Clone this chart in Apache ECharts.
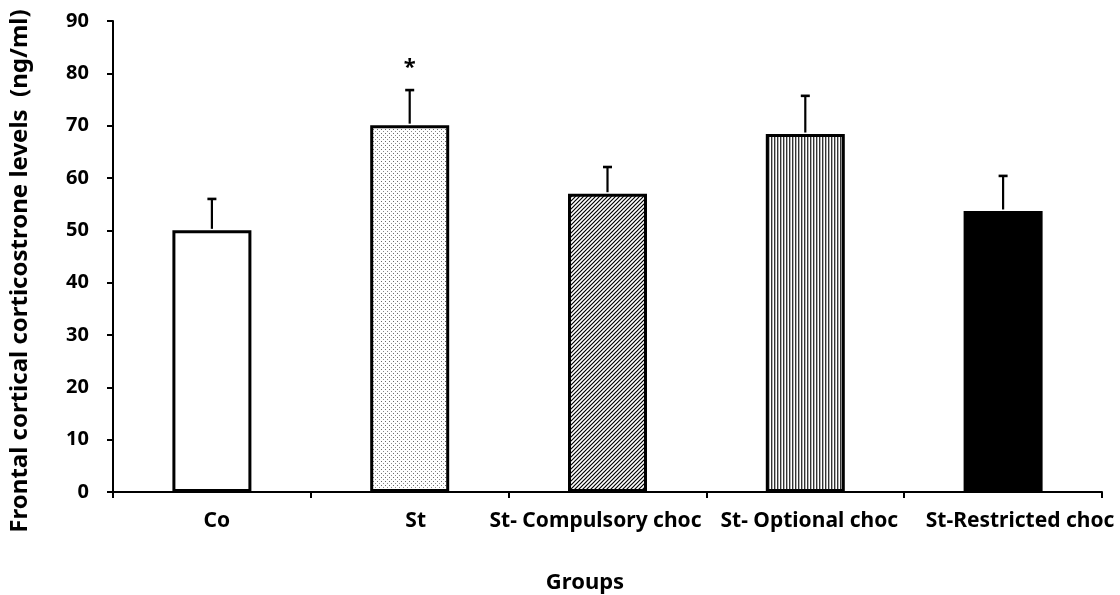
<!DOCTYPE html>
<html>
<head>
<meta charset="utf-8">
<script src="https://cdn.jsdelivr.net/npm/echarts@6/dist/echarts.min.js"></script>
<style>
html,body{margin:0;padding:0;background:#fff;}
#chart{width:1120px;height:595px;}
</style>
</head>
<body>
<div id="chart"></div>
<script>
// ---- data ----
const categories = ['Co', 'St', 'St- Compulsory choc', 'St- Optional choc', 'St-Restricted choc'];
const means = [50.0, 70.1, 57.0, 68.4, 53.7];
const errors = [6.0, 6.7, 5.1, 7.3, 6.7];
const significance = ['', '*', '', '', ''];
const yMin = 0, yMax = 90, yStep = 10;
const yTitle = 'Frontal cortical corticostrone levels  (ng/ml)';
const xTitle = 'Groups';

// ---- patterns ----
function makeTile(w, h, draw) {
  const c = document.createElement('canvas');
  c.width = w; c.height = h;
  const ctx = c.getContext('2d');
  ctx.fillStyle = '#fff';
  ctx.fillRect(0, 0, w, h);
  draw(ctx, w, h);
  return { image: c, repeat: 'repeat' };
}
const dotFill = makeTile(4, 4, (ctx) => {
  ctx.fillStyle = '#6a6a6a';
  ctx.fillRect(1, 1, 1, 1);
  ctx.fillStyle = '#8a8a8a';
  ctx.fillRect(3, 3, 1, 1);
});
const diagFill = makeTile(4, 4, (ctx, w, h) => {
  ctx.strokeStyle = '#000';
  ctx.lineWidth = 1.2;
  ctx.beginPath();
  ctx.moveTo(-1, h + 1); ctx.lineTo(w + 1, -1);
  ctx.moveTo(-1, 1); ctx.lineTo(1, -1);
  ctx.moveTo(w - 1, h + 1); ctx.lineTo(w + 1, h - 1);
  ctx.stroke();
});
const vertFill = makeTile(3, 4, (ctx) => {
  ctx.fillStyle = '#333';
  ctx.fillRect(0, 0, 1, 4);
  ctx.fillStyle = '#b0b0b0';
  ctx.fillRect(1, 0, 1, 4);
});
const fills = ['#ffffff', dotFill, diagFill, vertFill, '#000000'];
const labelShift = [10, 12, -24, 8, 34];

const FONT = 'Noto Sans';
const chart = echarts.init(document.getElementById('chart'), null, { renderer: 'canvas' });

const option = {
  backgroundColor: '#fff',
  animation: false,
  grid: { left: 113, right: 18, top: 21, bottom: 103, containLabel: false },
  xAxis: {
    type: 'category',
    data: categories.map((c, i) => ({
      value: c,
      textStyle: {
        padding: labelShift[i] >= 0 ? [0, 0, 0, labelShift[i]] : [0, -labelShift[i], 0, 0]
      }
    })),
    axisLine: { lineStyle: { color: '#000', width: 2 } },
    axisTick: { show: true, length: 6, lineStyle: { color: '#000', width: 2 } },
    axisLabel: { color: '#000', fontFamily: FONT, fontWeight: 'bold', fontSize: 21, margin: 19, interval: 0 },
    splitLine: { show: false }
  },
  yAxis: {
    type: 'value',
    min: yMin, max: yMax, interval: yStep,
    axisLine: { show: true, lineStyle: { color: '#000', width: 2 } },
    axisTick: { show: true, length: 6, lineStyle: { color: '#000', width: 2 } },
    axisLabel: { color: '#000', fontFamily: FONT, fontWeight: 'bold', fontSize: 20, margin: 24 },
    splitLine: { show: false }
  },
  graphic: [
    {
      type: 'text', x: 20, y: 271, rotation: Math.PI / 2,
      style: { text: yTitle, fill: '#000', font: 'bold 24px "Noto Sans"', textAlign: 'center', textVerticalAlign: 'middle' }
    },
    {
      type: 'text', x: 585, y: 583,
      style: { text: xTitle, fill: '#000', font: 'bold 22px "Noto Sans"', textAlign: 'center', textVerticalAlign: 'middle' }
    }
  ],
  series: [
    {
      type: 'bar',
      barWidth: 79,
      data: means.map((v, i) => ({
        value: v,
        itemStyle: { color: fills[i], borderColor: '#000', borderWidth: 3 }
      })),
      z: 2
    },
    {
      type: 'custom',
      z: 3,
      clip: false,
      data: means.map((v, i) => [i, v, v + errors[i]]),
      renderItem: function (params, api) {
        const i = api.value(0);
        const base = api.coord([i, api.value(1)]);
        const top = api.coord([i, api.value(2)]);
        const capHalf = 4.5;
        const children = [
          { type: 'line', shape: { x1: base[0], y1: base[1] - 1.5, x2: top[0], y2: top[1] }, style: { stroke: '#000', lineWidth: 2.2 } },
          { type: 'line', shape: { x1: top[0] - capHalf, y1: top[1], x2: top[0] + capHalf, y2: top[1] }, style: { stroke: '#000', lineWidth: 2.6 } }
        ];
        const sig = significance[params.dataIndex];
        if (sig) {
          children.push({
            type: 'text',
            x: top[0], y: top[1] - 22,
            style: { text: sig, fill: '#000', font: 'bold 22px "Noto Sans"', textAlign: 'center', textVerticalAlign: 'middle' }
          });
        }
        return { type: 'group', children: children };
      }
    }
  ]
};
chart.setOption(option);
</script>
</body>
</html>
